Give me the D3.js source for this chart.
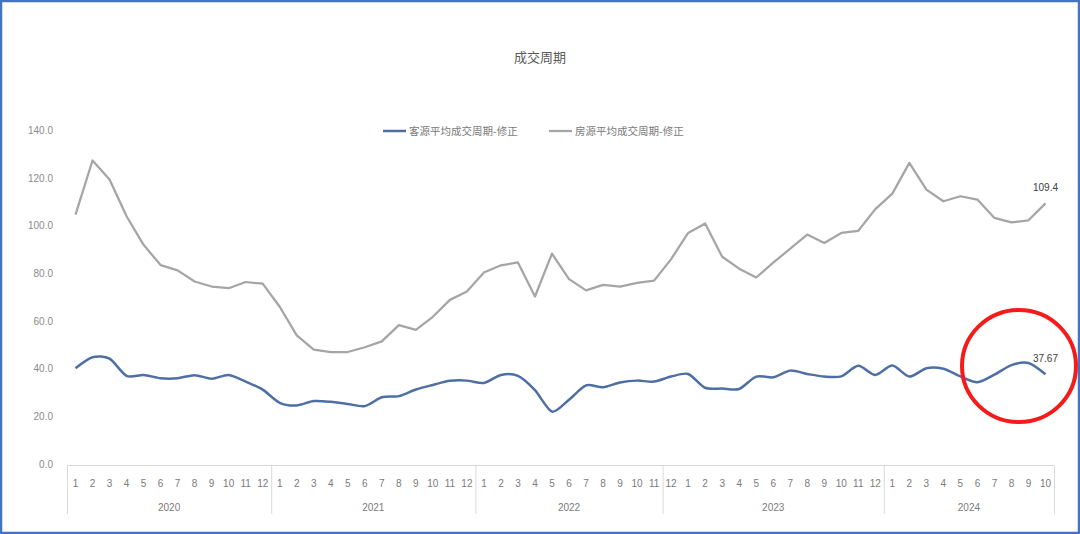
<html>
<head>
<meta charset="utf-8">
<script src="https://d3js.org/d3.v7.min.js"></script>
<style>
  body { margin: 0; background: #fff; }
  text { font-family: "Noto Sans CJK SC", "Liberation Sans", sans-serif; }
  .num { font-family: "Liberation Sans", "DejaVu Sans", sans-serif; }
</style>
</head>
<body>
<svg id="chart" width="1080" height="534"></svg>
<script>
// category labels (the month row) and the year groups under it
var monthLabels = ["1","2","3","4","5","6","7","8","9","10","11","12",
                   "1","2","3","4","5","6","7","8","9","10","11","12",
                   "1","2","3","4","5","6","7","8","9","10","11",
                   "12","1","2","3","4","5","6","7","8","9","10","11","12",
                   "1","2","3","4","5","6","7","8","9","10"]
var years = ["2020", "2021", "2022", "2023", "2024"]
var yearCounts = [12, 12, 11, 13, 10]

var seriesNames = ["客源平均成交周期-修正", "房源平均成交周期-修正"]

// 客源平均成交周期-修正
var buyerCycle = [40.2,44.8,44.2,37,37.4,36,36,37.3,35.8,37.4,34.6,31.2,
                  25.7,24.6,26.4,26.1,25.2,24.3,28,28.5,31.3,33.2,34.9,35,
                  34,37.4,37,31,22,27,33,32.2,34.2,35,34.6,
                  36.7,37.8,32,31.7,31.5,36.7,36.4,39.2,37.8,36.7,36.8,41.2,37.4,
                  41.3,36.7,40.2,40,36.8,34.3,37.5,41.5,42.4,37.67]

// 房源平均成交周期-修正
var listingCycle = [104.7,127.4,119.4,104,92,83.5,81.3,76.6,74.5,73.8,76.4,75.7,
                    66,54,48,47,47,49,51.5,58.3,56.3,61.8,68.9,72.4,
                    80.4,83.4,84.6,70.3,88.3,77.6,72.9,75.2,74.5,76,77,
                    86,97,101,87,82,78.3,84.5,90.4,96.3,92.8,97,97.9,107,
                    113.5,126.4,115.2,110.3,112.4,111,103.3,101.4,102.3,109.4]

var yTicks = [0, 20, 40, 60, 80, 100, 120, 140]

var svg = d3.select("#chart")

// blue frame round the picture
svg.append("rect")
    .attr("x", 1).attr("y", 1).attr("width", 1078).attr("height", 532)
    .attr("fill", "none").attr("stroke", "#4472c4").attr("stroke-width", 2.5)

var left = 67, right = 1054
var x = d3.scaleBand().domain(d3.range(monthLabels.length)).range([left, right]).padding(0)
var y = d3.scaleLinear().domain([0, 140]).range([464, 130.5])
var cx = function(i) { return x(i) + x.bandwidth() / 2 }

// title
svg.append("text")
    .attr("x", 540).attr("y", 62)
    .attr("text-anchor", "middle")
    .attr("font-size", 13).attr("fill", "#595959")
    .text("成交周期")

// y axis labels, no axis line or grid
var yAxis = d3.axisLeft(y).tickValues(yTicks).tickFormat(d3.format(".1f")).tickSize(0).tickPadding(0)
var gy = svg.append("g").attr("transform", "translate(53,0)").call(yAxis)
gy.select(".domain").remove()
gy.selectAll("text").attr("class", "num").attr("font-size", 10).attr("fill", "#8a8a8a")

// category axis: baseline, month row, year row with separators
var axisY = 465.5
svg.append("line")
    .attr("x1", left).attr("x2", right).attr("y1", axisY).attr("y2", axisY)
    .attr("stroke", "#d9d9d9").attr("stroke-width", 1)

svg.append("g").selectAll("text")
    .data(monthLabels)
    .enter()
    .append("text")
        .attr("class", "num")
        .attr("x", function(d, i) { return cx(i) })
        .attr("y", 487)
        .attr("text-anchor", "middle")
        .attr("font-size", 10).attr("fill", "#7a7a7a")
        .text(function(d) { return d })

var starts = [0]
yearCounts.forEach(function(n, k) { starts.push(starts[k] + n) })
var edgeX = function(k) { return k < monthLabels.length ? x(k) : right }

svg.append("g").selectAll("line")
    .data(starts)
    .enter()
    .append("line")
        .attr("x1", function(d) { return edgeX(d) + 0.5 })
        .attr("x2", function(d) { return edgeX(d) + 0.5 })
        .attr("y1", axisY).attr("y2", 514)
        .attr("stroke", "#d9d9d9").attr("stroke-width", 1)

svg.append("g").selectAll("text")
    .data(years)
    .enter()
    .append("text")
        .attr("class", "num")
        .attr("x", function(d, k) { return (edgeX(starts[k]) + edgeX(starts[k + 1])) / 2 })
        .attr("y", 511)
        .attr("text-anchor", "middle")
        .attr("font-size", 10).attr("fill", "#7a7a7a")
        .text(function(d) { return d })

// lines
var grayLine = d3.line()
    .x(function(d, i) { return cx(i) })
    .y(function(d) { return y(d) })
var blueLine = d3.line()
    .x(function(d, i) { return cx(i) })
    .y(function(d) { return y(d) })
    .curve(d3.curveCardinal.tension(0.2))

svg.append("path")
    .attr("d", grayLine(listingCycle))
    .attr("fill", "none").attr("stroke", "#a5a5a5").attr("stroke-width", 2.25)
    .attr("stroke-linejoin", "round")

svg.append("path")
    .attr("d", blueLine(buyerCycle))
    .attr("fill", "none").attr("stroke", "#4e6fa3").attr("stroke-width", 2.5)
    .attr("stroke-linejoin", "round")

// data labels on the last points
var last = monthLabels.length - 1
svg.append("text")
    .attr("class", "num")
    .attr("x", cx(last)).attr("y", y(listingCycle[last]) - 12)
    .attr("text-anchor", "middle").attr("font-size", 10).attr("fill", "#404040")
    .text(d3.format(".1f")(listingCycle[last]))
svg.append("text")
    .attr("class", "num")
    .attr("x", cx(last)).attr("y", y(buyerCycle[last]) - 12)
    .attr("text-anchor", "middle").attr("font-size", 10).attr("fill", "#404040")
    .text(d3.format(".2f")(buyerCycle[last]))

// legend
var legend = svg.append("g").attr("transform", "translate(0,131)")
var legendX = [383, 549]
var legendColor = ["#4e6fa3", "#a5a5a5"]
seriesNames.forEach(function(name, k) {
    legend.append("line")
        .attr("x1", legendX[k]).attr("x2", legendX[k] + 23).attr("y1", 0).attr("y2", 0)
        .attr("stroke", legendColor[k]).attr("stroke-width", k == 0 ? 2.5 : 2.25)
    legend.append("text")
        .attr("x", legendX[k] + 26).attr("y", 4)
        .attr("font-size", 10.5).attr("fill", "#7a7a7a")
        .text(name)
})

// red circle marking the last few months
svg.append("ellipse")
    .attr("cx", 1019).attr("cy", 366).attr("rx", 57).attr("ry", 56)
    .attr("fill", "none").attr("stroke", "#f51b1b").attr("stroke-width", 4)
</script>
</body>
</html>
